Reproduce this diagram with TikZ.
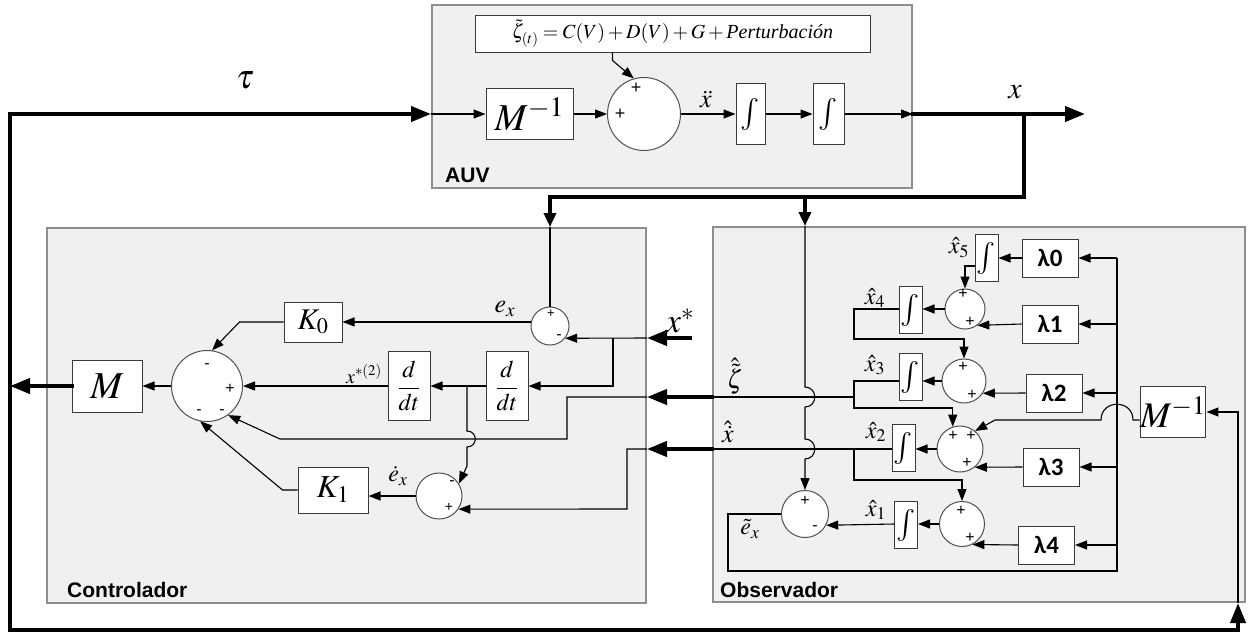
\documentclass[tikz,border=0pt]{standalone}
\usepackage{mathptmx}
\usepackage{fontspec}
\setmainfont{Liberation Serif}
\newfontfamily\lblfont{Liberation Sans}
\newfontfamily\lamfont{Carlito}
\usetikzlibrary{arrows.meta,calc}
\definecolor{panelfill}{HTML}{F0F0F0}
\definecolor{panelborder}{HTML}{8E8E8E}
\definecolor{blkcol}{HTML}{3A3A3A}
\definecolor{circcol}{HTML}{505050}
\newcommand{\fsz}[1]{\fontsize{#1}{#1}\selectfont}
\begin{document}
\begin{tikzpicture}[x=1pt,y=-1pt,
 panel/.style={draw=panelborder, fill=panelfill, line width=2pt, inner sep=0pt},
 blk/.style={draw=blkcol, fill=white, line width=1pt, inner sep=0pt},
 sumnode/.style={circle, draw=circcol, fill=white, line width=1pt, inner sep=0pt},
 ln/.style={line width=1.1pt, draw=black},
 arr/.style={ln, -{Triangle[length=12pt,width=9pt]}},
 thk/.style={line width=4pt, line cap=rect},
 tarr/.style={thk, -{Triangle[length=20pt,width=15pt]}},
 tarrs/.style={thk, -{Triangle[length=14pt,width=12pt]}},
 sgn/.style={font=\lblfont\fsz{16}, inner sep=0pt},
 lbl/.style={inner sep=0pt, font=\fsz{24}},
 lam/.style={blk, font=\lamfont\bfseries\fsz{25}, minimum width=56, minimum height=38},
 integ/.style={blk, minimum width=23, minimum height=47, font=\fsz{32}},
 ttl/.style={font=\lblfont\bfseries\fsz{21}, inner sep=0pt, anchor=west}]
\useasboundingbox (0,0) rectangle (1249,635);

% panels
\node[panel, minimum width=480, minimum height=183] (auv) at (672,96.5) {};
\node[panel, minimum width=599, minimum height=375] (ctrl) at (346.5,415.5) {};
\node[panel, minimum width=532, minimum height=375] (obs) at (979,414.5) {};
\node[ttl] (tauv) at (445,175) {AUV};
\node[ttl] (tctrl) at (67,590) {Controlador};
\node[ttl] (tobs) at (720,590) {Observador};

% AUV contents
\node[blk, minimum width=395, minimum height=37, font=\fsz{20}] (pert) at (672.5,33.5)
  {$\tilde{\zeta}_{(t)} = C(V)+D(V)+G+{}$\textit{Perturbación}};
\node[blk, minimum width=87, minimum height=51, font=\fsz{38}] (minv) at (529.5,114) {$M^{-1}$};
\node[sumnode, minimum size=73] (sum0) at (644,114) {};
\node[integ, minimum height=61, minimum width=29] (int1) at (750.5,114) {$\int$};
\node[integ, minimum height=61, minimum width=31] (int2) at (828.5,114) {$\int$};
\node[sgn, font=\lblfont\fsz{18}] (sg01) at (636,88) {+};
\node[sgn, font=\lblfont\fsz{18}] (sg02) at (620,114) {+};
\node[lbl, font=\fsz{26}] (lxdd) at (706,99) {$\ddot{x}$};

% main signals
\coordinate (tl) at (10,114);
\coordinate (bl) at (10,630);
\coordinate (br) at (1238,630);
\coordinate (xo) at (1085,114);
\coordinate (fbtop) at (1024,114);
\coordinate (fbbot) at (1024,197);
\coordinate (fbL) at (550,197);
\coordinate (fbM) at (805,197);
\node[lbl, font=\fsz{34}] (ltau) at (245,80) {$\tau$};
\node[lbl, font=\fsz{30}] (lx) at (1015,92) {$x$};

\draw[tarr] (bl) -- (tl) -- (auv.west |- minv);
\draw[tarr] (bl) -- (br) -- (obs.south -| br);
\draw[arr] (auv.west |- minv) -- (minv.west);
\draw[arr] (minv.east) -- (sum0.west);
\draw[arr] (sum0.east) -- (int1.west);
\draw[arr] (int1.east) -- (int2.west);
\draw[arr] (int2.east) -- (auv.east |- int2);
\draw[tarr] (auv.east |- int2) -- (xo);
\draw[arr] ($(pert.south west)+(138,0)$) -- ++(0,8) -- (sum0.106);
\draw[thk] (fbtop) -- (fbbot) -- (fbL);
\draw[tarrs] (fbL) -- (fbL |- ctrl.north);
\draw[tarrs] (fbM) -- (fbM |- obs.north);

% Controller
\node[blk, minimum width=70, minimum height=52, font=\fsz{38}] (M) at (107,386) {$M$};
\node[sumnode, minimum size=71] (sumA) at (207,386) {};
\node[blk, minimum width=58, minimum height=40, font=\fsz{30}] (K0) at (313,322) {$K_0$};
\node[blk, minimum width=70, minimum height=46, font=\fsz{32}] (K1) at (333,490) {$K_1$};
\node[blk, minimum width=42, minimum height=69, font=\fsz{24}] (ddt1) at (409,386) {$\displaystyle\frac{d}{dt}$};
\node[blk, minimum width=42, minimum height=69, font=\fsz{24}] (ddt2) at (507,386) {$\displaystyle\frac{d}{dt}$};
\node[sumnode, minimum size=38] (sumE) at (550,326) {};
\node[sumnode, minimum size=46] (sumD) at (439,496) {};
\node[sgn] (sg1) at (207,366) {-};
\node[sgn] (sg2) at (230,389) {+};
\node[sgn] (sg3) at (199,412) {-};
\node[sgn] (sg4) at (222,412) {-};
\node[sgn, font=\lblfont\fsz{13}] (sg5) at (551,314) {+};
\node[sgn] (sg6) at (559,337) {-};
\node[sgn] (sg7) at (452,483) {-};
\node[sgn, font=\lblfont\fsz{14}] (sg8) at (449,507) {+};
\node[lbl, font=\fsz{26}] (lex) at (505,309) {$e_x$};
\node[lbl, font=\fsz{34}] (lxs) at (680,321) {$x^{*}$};
\node[lbl, font=\fsz{20}] (lx2) at (364,374) {$x^{*(2)}$};
\node[lbl] (ledot) at (398,476) {$\dot{e}_x$};

\coordinate (xs) at (690,338);
\coordinate (xsb) at (613,338);
\coordinate (db) at (467,386);
\coordinate (zhatO) at (854,397);
\coordinate (xhatO) at (854,449);

\draw[tarr] (M.west) -- (M.west -| tl);
\draw[arr] (sumA.west) -- (M.east);
\draw[ln] (fbL |- ctrl.north) -- (sumE.north);
\draw[arr] (sumE.168) -- (sumE.168 -| K0.east);
\draw[arr] (K0.west) -- ++(-44,0) -- (sumA.82);
\draw[tarr] (xs) -- (ctrl.east |- xs);
\draw[arr] (ctrl.east |- xs) -- (sumE.-39);
\draw[arr] (xsb) |- (ddt2.east);
\draw[arr] (ddt2.west) -- (ddt1.east);
\draw[arr] (ddt1.west) -- (sumA.east);
\draw[arr] (db) -- (467,431) .. controls (478,431) and (478,447) .. (467,447) -- (467,466) -- (sumD.32);
\draw[arr] (sumD.west) -- (sumD.west -| K1.east);
\draw[arr] (K1.west) -- ++(-15,0) -- (sumA.-101);

\draw[ln] (zhatO) -- (zhatO -| obs.west);
\draw[tarr] (zhatO -| obs.west) -- (zhatO -| ctrl.east);
\draw[arr] (zhatO -| ctrl.east) -- (567,397) -- (567,439) -- (280,439) -- (sumA.-54);
\draw[ln] (xhatO) -- (xhatO -| obs.west);
\draw[tarr] (xhatO -| obs.west) -- (xhatO -| ctrl.east);
\draw[arr] (xhatO -| ctrl.east) -- (627,449) -- (627,509) -- (sumD.-34);

% Observer
\node[integ] (ix5) at (986.5,258) {$\int$};
\node[lam] (lam0) at (1050,258) {λ0};
\node[sumnode, minimum size=40] (s4) at (965,309) {};
\node[lam] (lam1) at (1050,324) {λ1};
\node[integ] (ix4) at (910.5,310) {$\int$};
\node[sumnode, minimum size=44] (s3) at (964,381) {};
\node[lam] (lam2) at (1054,393) {λ2};
\node[integ] (ix3) at (910.5,377) {$\int$};
\node[sumnode, minimum size=46] (s2) at (960,449) {};
\node[lam] (lam3) at (1051,467) {λ3};
\node[integ] (ix2) at (903.5,448) {$\int$};
\node[sumnode, minimum size=45] (s1) at (962,524) {};
\node[lam] (lam4) at (1046.5,545) {λ4};
\node[integ] (ix1) at (906,525) {$\int$};
\node[sumnode, minimum size=47] (sT) at (805,514) {};
\node[blk, minimum width=60, minimum height=51, font=\fsz{36}] (minv2) at (1173,412) {$M^{-1}$};

\node[sgn] (o1) at (963,294) {+};
\node[sgn] (o2) at (970,322) {+};
\node[sgn] (o3) at (963,367) {+};
\node[sgn] (o4) at (972,395) {+};
\node[sgn] (o5) at (953,436) {+};
\node[sgn] (o6) at (971,436) {+};
\node[sgn] (o7) at (967,463) {+};
\node[sgn] (o8) at (961,511) {+};
\node[sgn] (o9) at (970,538) {+};
\node[sgn] (o10) at (805,501) {+};
\node[sgn] (o11) at (815,528) {-};

\node[lbl] (lx5) at (959,248) {$\hat{x}_5$};
\node[lbl] (lx4) at (875,298) {$\hat{x}_4$};
\node[lbl] (lx3) at (875,365) {$\hat{x}_3$};
\node[lbl] (lx2h) at (876,432) {$\hat{x}_2$};
\node[lbl] (lx1) at (876,510) {$\hat{x}_1$};
\node[lbl, font=\fsz{26}] (lzh) at (735,376) {$\hat{\tilde{\zeta}}$};
\node[lbl, font=\fsz{26}] (lxh) at (728,432) {$\hat{\dot{x}}$};
\node[lbl] (let) at (750,529) {$\tilde{e}_x$};

\coordinate (lv) at (1117,571);

\draw[arr] (fbM |- obs.north) -- (805,387) .. controls (818,387) and (818,407) .. (805,407)
  -- (805,439) .. controls (818,439) and (818,459) .. (805,459) -- (sT.north);
\draw[arr] (lam0.west) -- (ix5.east);
\draw[arr] ($(ix5.west)+(0,8)$) -| (s4.north);
\draw[arr] (lam1.west) -- (s4.-53);
\draw[arr] (s4.west) -- (s4.west -| ix4.east);
\draw[arr] (ix4.west |- s4) -- (854,309) -- (854,339) -| (s3.north);
\draw[arr] (lam2.west) -- (s3.-33);
\draw[arr] (s3.west) -- (s3.west -| ix3.east);
\draw[arr] (ix3.west |- s3) -- (854,381) -- (854,408) -| (s2.108);
\draw[arr] ($(minv2.west)+(0,8)$) -- (1133,420) .. controls (1133,399) and (1101,399) .. (1101,420) -- (995,420) -- (s2.50);
\draw[arr] (lam3.west) -- (s2.-51);
\draw[arr] (s2.west) -- (s2.west -| ix2.east);
\draw[arr] (ix2.west |- s2) -- (854,449) -- (854,480) -| (s1.north);
\draw[arr] (lam4.west) -- (s1.-63);
\draw[arr] (s1.west) -- (s1.west -| ix1.east);
\draw[arr] (ix1.west |- s1) -- (sT.-28);
\draw[ln] (sT.west) -- (728,514) |- (lv) -- (lv |- lam0);
\draw[arr] (lv |- lam0) -- (lam0.east);
\foreach \n in {lam1,lam2,lam3,lam4} \draw[arr] (lv |- \n) -- (\n.east);
\draw[arr] (br |- obs.south) -- (br |- minv2) -- (minv2.east);
\end{tikzpicture}
\end{document}
